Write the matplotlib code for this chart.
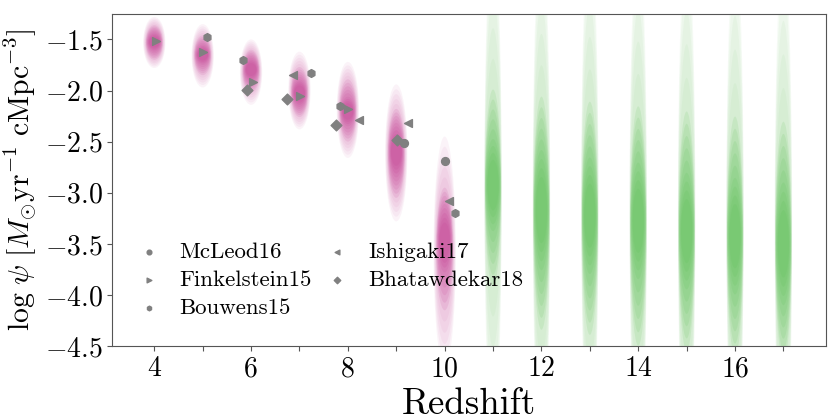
import matplotlib
matplotlib.use('Agg')
import matplotlib.pyplot as plt
import numpy as np
from matplotlib.patches import Ellipse

plt.rcParams['font.family'] = 'cmr10'
plt.rcParams['mathtext.fontset'] = 'cm'
plt.rcParams['axes.formatter.use_mathtext'] = True
plt.rcParams['axes.unicode_minus'] = True

# ###############
# Model posterior clouds: ranges (lo, hi)
z_pink = [4, 5, 6, 7, 8, 9, 10]
pink_out_lo = [-1.78, -1.97, -2.14, -2.38, -2.66, -3.28, -4.70]
pink_out_hi = [-1.28, -1.35, -1.50, -1.62, -1.72, -1.94, -2.45]
pink_mid_lo = [-1.70, -1.85, -2.02, -2.26, -2.50, -3.05, -4.15]
pink_mid_hi = [-1.36, -1.46, -1.60, -1.77, -1.89, -2.18, -2.95]
pink_core_lo = [-1.62, -1.75, -1.91, -2.16, -2.35, -2.85, -3.78]
pink_core_hi = [-1.43, -1.55, -1.68, -1.89, -2.06, -2.35, -3.15]

z_green = [11, 12, 13, 14, 15, 16, 17]
green_out_lo = [-5.0, -5.2, -5.2, -5.3, -5.4, -5.4, -5.5]
green_out_hi = [-0.9, -0.95, -0.95, -1.0, -1.0, -1.05, -1.1]
green_mid_lo = [-3.75, -4.15, -4.20, -4.30, -4.35, -4.40, -4.45]
green_mid_hi = [-2.15, -2.25, -2.30, -2.35, -2.40, -2.45, -2.50]
green_core_lo = [-3.30, -3.66, -3.70, -3.75, -3.85, -3.90, -4.00]
green_core_hi = [-2.55, -2.68, -2.75, -2.80, -2.90, -2.95, -3.00]

# ###############
# Observations
mcleod_z = [9.15, 10.0]
mcleod_psi = [-2.51, -2.69]
finkel_z = [4.04, 5.01, 6.04, 7.02, 8.01]
finkel_psi = [-1.52, -1.62, -1.92, -2.05, -2.18]
bouwens_z = [5.08, 5.84, 7.24, 7.83, 10.22]
bouwens_psi = [-1.48, -1.70, -1.83, -2.15, -3.20]
ishi_z = [6.87, 8.22, 9.25, 10.1]
ishi_psi = [-1.85, -2.29, -2.32, -3.08]
bhat_z = [5.91, 6.74, 7.75, 9.01]
bhat_psi = [-1.99, -2.08, -2.34, -2.48]


def draw_clouds(ax, zs, out, mid, core, widths, alphas, color, stretch=1.0):
    # soft cloud: stack of ellipses shrinking from outer range to core range
    w_out, w_mid, w_core = widths
    a_out, a_mid, a_core = alphas
    for i, z in enumerate(zs):
        layers = []
        for t in np.linspace(0, 1, 5, endpoint=False):
            lo = out[0][i] + t * (mid[0][i] - out[0][i])
            hi = out[1][i] + t * (mid[1][i] - out[1][i])
            layers.append((lo, hi, w_out + t * (w_mid - w_out), a_out))
        for t in np.linspace(0, 1, 6):
            lo = mid[0][i] + t * (core[0][i] - mid[0][i])
            hi = mid[1][i] + t * (core[1][i] - mid[1][i])
            layers.append((lo, hi, w_mid + t * (w_core - w_mid), a_mid))
        c = (core[0][i] + core[1][i]) / 2.
        for f in [0.85, 0.7, 0.55]:
            lo = c + f * (core[0][i] - c)
            hi = c + f * (core[1][i] - c)
            layers.append((lo, hi, w_core * (0.5 + 0.5 * f), a_core))
        for lo, hi, w, a in layers:
            ax.add_patch(Ellipse((z, (lo + hi) / 2.), w, (hi - lo) * stretch,
                                 facecolor=color, edgecolor='none', alpha=a, zorder=1))


fig = plt.figure(figsize=(8.31, 4.2), dpi=100)
ax = fig.add_axes([0.135, 0.176, 0.859, 0.791])

draw_clouds(ax, z_pink, (pink_out_lo, pink_out_hi), (pink_mid_lo, pink_mid_hi),
            (pink_core_lo, pink_core_hi), (0.46, 0.36, 0.28), (0.06, 0.12, 0.15), '#c43c92')
draw_clouds(ax, z_green, (green_out_lo, green_out_hi), (green_mid_lo, green_mid_hi),
            (green_core_lo, green_core_hi), (0.36, 0.34, 0.30), (0.05, 0.12, 0.12), '#54bc4e',
            stretch=1.2)

gc = 'grey'
ax.scatter(mcleod_z, mcleod_psi, marker='o', s=32, color=gc, zorder=3, label='McLeod16')
ax.scatter(finkel_z, finkel_psi, marker='>', s=32, color=gc, zorder=3, label='Finkelstein15')
ax.scatter(bouwens_z, bouwens_psi, marker='h', s=32, color=gc, zorder=3, label='Bouwens15')
ax.scatter(ishi_z, ishi_psi, marker='<', s=32, color=gc, zorder=3, label='Ishigaki17')
ax.scatter(bhat_z, bhat_psi, marker='D', s=30, color=gc, zorder=3, label='Bhatawdekar18')

ax.set_xlim(3.13, 17.88)
ax.set_ylim(-4.5, -1.25)
ax.set_xticks(range(4, 18))
ax.set_xticklabels([str(t) if t % 2 == 0 else '' for t in range(4, 18)])
ax.set_yticks([-4.5, -4.0, -3.5, -3.0, -2.5, -2.0, -1.5])
ax.tick_params(labelsize=20, color='#555555', direction='out')
for sp in ax.spines.values():
    sp.set_color('#555555')

ax.set_xlabel('Redshift', fontsize=26.5)
ax.set_ylabel(r'$\log\,\psi\ [M_{\odot}{\rm yr}^{-1}\ {\rm cMpc}^{-3}]$', fontsize=21.4)

ax.legend(loc='lower left', bbox_to_anchor=(0.003, 0.022), ncol=2, frameon=False,
          fontsize=16.5, handlelength=1.2, handletextpad=0.75, columnspacing=0.5,
          labelspacing=0.35, markerscale=0.6)

fig.savefig('out.png', dpi=100)
